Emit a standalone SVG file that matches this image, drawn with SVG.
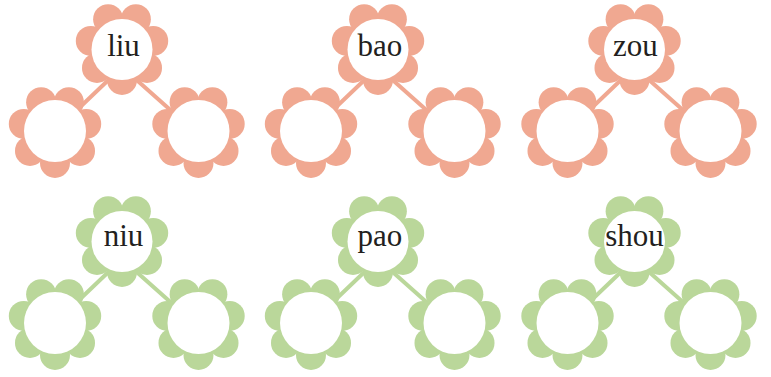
<svg xmlns="http://www.w3.org/2000/svg" xmlns:xlink="http://www.w3.org/1999/xlink" width="771" height="377" viewBox="0 0 771 377">
<style>
.pink{fill:#F0A891}
.green{fill:#BAD79A}
.lp{stroke:#F0A891}
.lg{stroke:#BAD79A}
.conn polyline{fill:none;stroke-width:4}
.core{fill:#fff}
text{font-family:"Liberation Serif","Times New Roman",serif;font-size:31px;fill:#231f20;text-anchor:middle}
</style>
<defs>
<g id="petals">
<circle cx="0" cy="32" r="15"/>
<circle cx="-25.02" cy="19.95" r="15"/>
<circle cx="-31.2" cy="-7.12" r="15"/>
<circle cx="-13.88" cy="-28.83" r="15"/>
<circle cx="13.88" cy="-28.83" r="15"/>
<circle cx="31.2" cy="-7.12" r="15"/>
<circle cx="25.02" cy="19.95" r="15"/>
</g>
</defs>
<rect width="771" height="377" fill="#fff"/>
<g id="connectors" class="conn">
<polyline class="lp" points="55,131 122,67 198.5,135"/>
<polyline class="lp" points="311,131 378,67 454.5,135"/>
<polyline class="lp" points="567.5,131 634.5,67 711,135"/>
<polyline class="lg" points="55,323 122,259 198.5,327"/>
<polyline class="lg" points="311,323 378,259 454.5,327"/>
<polyline class="lg" points="567.5,323 634.5,259 711,327"/>
</g>
<g id="n-liu" class="pink"><use xlink:href="#petals" href="#petals" x="122" y="48"/><circle class="core" cx="122" cy="49.5" r="30.5"/><text x="123.5" y="56">liu</text></g>
<g id="n-liu-a" class="pink"><use xlink:href="#petals" href="#petals" x="55" y="131"/><circle class="core" cx="55" cy="131" r="31"/></g>
<g id="n-liu-b" class="pink"><use xlink:href="#petals" href="#petals" x="198.5" y="131"/><circle class="core" cx="198.5" cy="131" r="31"/></g>
<g id="n-bao" class="pink"><use xlink:href="#petals" href="#petals" x="378" y="48"/><circle class="core" cx="378" cy="49.5" r="30.5"/><text x="380" y="56">bao</text></g>
<g id="n-bao-a" class="pink"><use xlink:href="#petals" href="#petals" x="311" y="131"/><circle class="core" cx="311" cy="131" r="31"/></g>
<g id="n-bao-b" class="pink"><use xlink:href="#petals" href="#petals" x="454.5" y="131"/><circle class="core" cx="454.5" cy="131" r="31"/></g>
<g id="n-zou" class="pink"><use xlink:href="#petals" href="#petals" x="634.5" y="48"/><circle class="core" cx="634.5" cy="49.5" r="30.5"/><text x="635.5" y="56">zou</text></g>
<g id="n-zou-a" class="pink"><use xlink:href="#petals" href="#petals" x="567.5" y="131"/><circle class="core" cx="567.5" cy="131" r="31"/></g>
<g id="n-zou-b" class="pink"><use xlink:href="#petals" href="#petals" x="710.5" y="131"/><circle class="core" cx="710.5" cy="131" r="31"/></g>
<g id="n-niu" class="green"><use xlink:href="#petals" href="#petals" x="122" y="240"/><circle class="core" cx="122" cy="241.5" r="30.5"/><text x="123.5" y="246">niu</text></g>
<g id="n-niu-a" class="green"><use xlink:href="#petals" href="#petals" x="55" y="323"/><circle class="core" cx="55" cy="323" r="31"/></g>
<g id="n-niu-b" class="green"><use xlink:href="#petals" href="#petals" x="198.5" y="323"/><circle class="core" cx="198.5" cy="323" r="31"/></g>
<g id="n-pao" class="green"><use xlink:href="#petals" href="#petals" x="378" y="240"/><circle class="core" cx="378" cy="241.5" r="30.5"/><text x="380" y="246">pao</text></g>
<g id="n-pao-a" class="green"><use xlink:href="#petals" href="#petals" x="311" y="323"/><circle class="core" cx="311" cy="323" r="31"/></g>
<g id="n-pao-b" class="green"><use xlink:href="#petals" href="#petals" x="454.5" y="323"/><circle class="core" cx="454.5" cy="323" r="31"/></g>
<g id="n-shou" class="green"><use xlink:href="#petals" href="#petals" x="634.5" y="240"/><circle class="core" cx="634.5" cy="241.5" r="30.5"/><text x="634.5" y="246">shou</text></g>
<g id="n-shou-a" class="green"><use xlink:href="#petals" href="#petals" x="567.5" y="323"/><circle class="core" cx="567.5" cy="323" r="31"/></g>
<g id="n-shou-b" class="green"><use xlink:href="#petals" href="#petals" x="710.5" y="323"/><circle class="core" cx="710.5" cy="323" r="31"/></g>
</svg>
